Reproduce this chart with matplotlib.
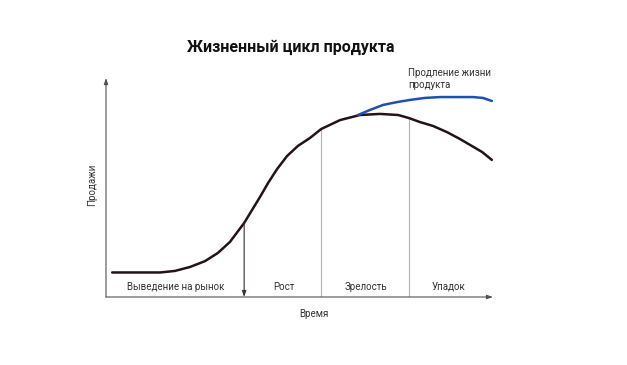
import matplotlib.pyplot as plt

plt.rcParams['font.family'] = ['Roboto', 'DejaVu Sans']

# sales curve (time 0..100, sales 0..100)
time_x = [1.6, 14.0, 17.8, 21.7, 25.6, 28.9, 32.0, 35.7, 39.8, 41.9, 44.2, 46.8, 49.6,
          52.7, 55.6, 60.5, 65.6, 70.8, 75.5, 78.3, 81.1, 84.5, 88.1, 91.5, 94.6, 97.2, 99.7]
sales_y = [11.2, 11.2, 11.9, 13.7, 16.4, 20.1, 25.1, 33.8, 45.7, 52.1, 58.4, 64.4, 69.0,
           72.6, 76.7, 80.8, 83.1, 83.6, 83.1, 81.7, 79.9, 78.1, 75.3, 72.1, 68.9, 66.2, 62.6]

# extension of life
ext_x = [65.1, 68.2, 71.6, 75.2, 78.6, 82.4, 86.3, 94.8, 97.4, 99.7]
ext_y = [83.1, 85.4, 87.7, 89.0, 90.0, 90.9, 91.3, 91.3, 90.9, 89.5]

# stage borders and labels
borders = [35.7, 55.6, 78.3]
stages = ["Выведение на рынок", "Рост", "Зрелость", "Упадок"]
stage_x = [18.1, 46.0, 67.2, 88.4]

fig = plt.figure(figsize=(6.27, 3.65), dpi=100)
ax = fig.add_axes([106/627, 1-297/365, 387/627, 219/365])
ax.set_xlim(0, 100)
ax.set_ylim(0, 100)
ax.axis('off')

# axes with arrows
ax.annotate("", xy=(0, 1.0), xytext=(0, 0), xycoords='axes fraction',
            arrowprops=dict(arrowstyle='-|>,head_length=0.35,head_width=0.12',
                            color='#555055', lw=0.8, shrinkA=0, shrinkB=0))
ax.annotate("", xy=(1.0, 0), xytext=(0, 0), xycoords='axes fraction',
            arrowprops=dict(arrowstyle='-|>,head_length=0.35,head_width=0.12',
                            color='#555055', lw=0.8, shrinkA=0, shrinkB=0))

# stage borders
for i, b in enumerate(borders):
    top = None
    for j in range(len(time_x) - 1):
        if time_x[j] <= b <= time_x[j + 1]:
            t = (b - time_x[j]) / (time_x[j + 1] - time_x[j])
            top = sales_y[j] + t * (sales_y[j + 1] - sales_y[j])
    if i == 0:
        ax.annotate("", xy=(b, 0), xytext=(b, top),
                    arrowprops=dict(arrowstyle='-|>,head_length=0.35,head_width=0.12',
                                    color='#3a3035', lw=0.8, shrinkA=0, shrinkB=0))
    else:
        ax.plot([b, b], [0, top], color='#bdb0b0', lw=0.8)

ax.plot(time_x, sales_y, color='#24121a', lw=1.8, solid_capstyle='round', solid_joinstyle='round')
ax.plot(ext_x, ext_y, color='#1f4fb5', lw=1.8, solid_capstyle='round', solid_joinstyle='round')

for s, sx in zip(stages, stage_x):
    ax.text(sx, 4.6, s, ha='center', va='center', fontsize=7, color='#333333')

fig.text(291/627, 1-47/365, "Жизненный цикл продукта", ha='center', va='center',
         fontsize=11.5, fontweight='bold', color='#111111')
fig.text(408/627, 1-79/365, "Продление жизни\nпродукта", ha='left', va='center',
         fontsize=7, color='#333333', linespacing=1.3)
fig.text(92/627, 1-185/365, "Продажи", rotation=90, ha='center', va='center',
         fontsize=7, color='#333333')
fig.text(314/627, 1-314/365, "Время", ha='center', va='center',
         fontsize=7, color='#333333')

fig.savefig("out.png", dpi=100)
